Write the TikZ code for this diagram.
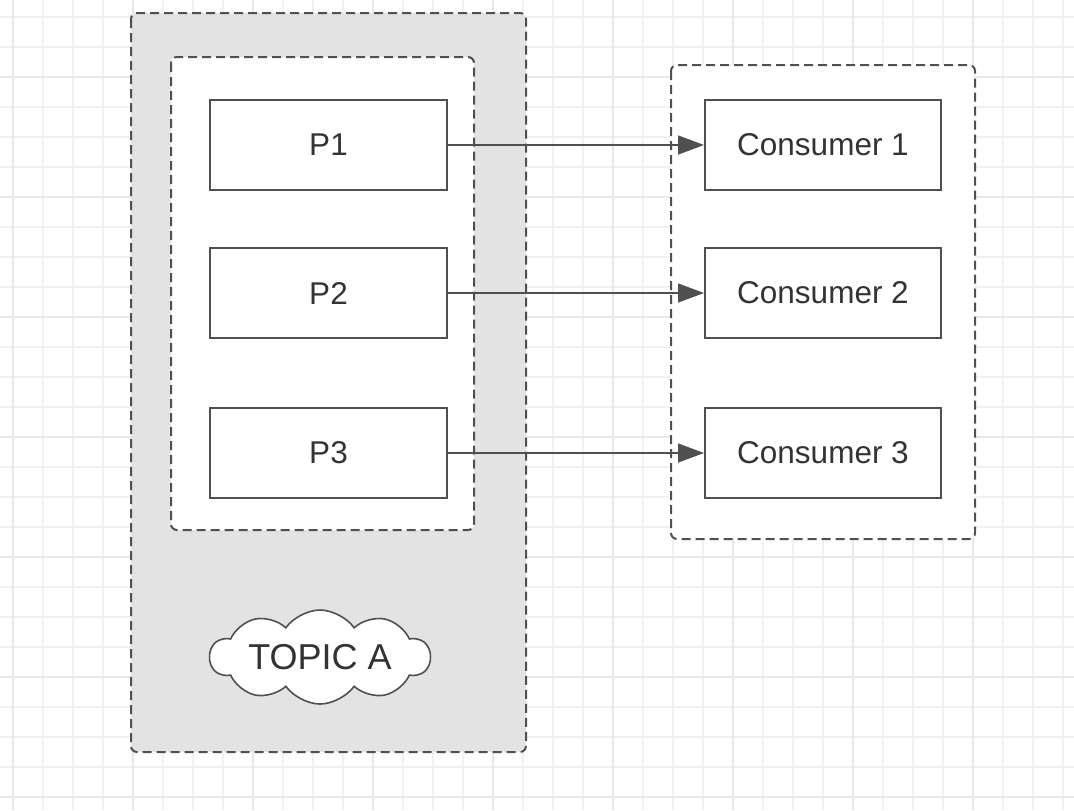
\documentclass[tikz,border=0pt]{standalone}
\usepackage{fontspec}
\setmainfont{Liberation Sans}
\usetikzlibrary{arrows.meta,shapes.symbols}
\definecolor{linegray}{HTML}{505050}
\definecolor{textgray}{HTML}{333333}
\definecolor{boxgray}{HTML}{E3E3E3}
\definecolor{gridminor}{HTML}{F1F1F1}
\definecolor{gridmajor}{HTML}{E8E8E8}
\tikzset{
	partbox/.style={draw=linegray, line width=1pt, fill=white, minimum width=118.5pt, minimum height=45pt, text=textgray, font=\fontsize{15.75}{18}\selectfont},
	groupbox/.style={draw=linegray, line width=1pt, dash pattern=on 4.5pt off 2.5pt, rounded corners=3pt},
	feed/.style={draw=linegray, line width=0.8pt, -{Triangle[length=13pt,width=9.5pt]}},
}

\begin{document}
\begin{tikzpicture}[x=0.5pt,y=-0.5pt]
		\useasboundingbox (0,0) rectangle (1074,810);
		\fill[white] (0,0) rectangle (1074,810);
		%%%%%%% background grid
		\begin{scope}[shift={(13,17)}]
		\draw[gridminor, line width=0.8pt, step=15pt] (-13,-17) grid (1061,793);
		\end{scope}
		\begin{scope}[shift={(13,77)}]
		\draw[gridmajor, line width=0.8pt, step=60pt] (-13,-77) grid (1061,733);
		\end{scope}
		%%%%%%% topic and consumer group
		\draw[groupbox, fill=boxgray] (131,13) rectangle (526,752);
		\draw[groupbox, fill=white] (171,57) rectangle (474,530);
		\draw[groupbox, fill=white] (671,65) rectangle (975,539);
		%%%%%%%
		\node(p1)[partbox, anchor=center] at (328.5,145) {P1};
		\node(p2)[partbox, anchor=center] at (328.5,293) {P2};
		\node(p3)[partbox, anchor=center] at (328.5,453) {P3};
		%%%%%%%
		\node(c1)[partbox, minimum width=118pt, anchor=center] at (823,145) {Consumer 1};
		\node(c2)[partbox, minimum width=118pt, anchor=center] at (823,293) {Consumer 2};
		\node(c3)[partbox, minimum width=118pt, anchor=center] at (823,453) {Consumer 3};
		%%%%%%%
		\draw[feed] (p1.east) -- (c1.west);
		\draw[feed] (p2.east) -- (c2.west);
		\draw[feed] (p3.east) -- (c3.west);
		%%%%%%%
		\node(topic)[cloud, cloud puffs=10, cloud puff arc=110, cloud ignores aspect, draw=linegray, line width=0.8pt, fill=white, minimum width=110pt, minimum height=47pt, inner sep=0pt, text=textgray, font=\fontsize{18}{21}\selectfont, anchor=center] at (320,657) {TOPIC A};
\end{tikzpicture}
\end{document}
